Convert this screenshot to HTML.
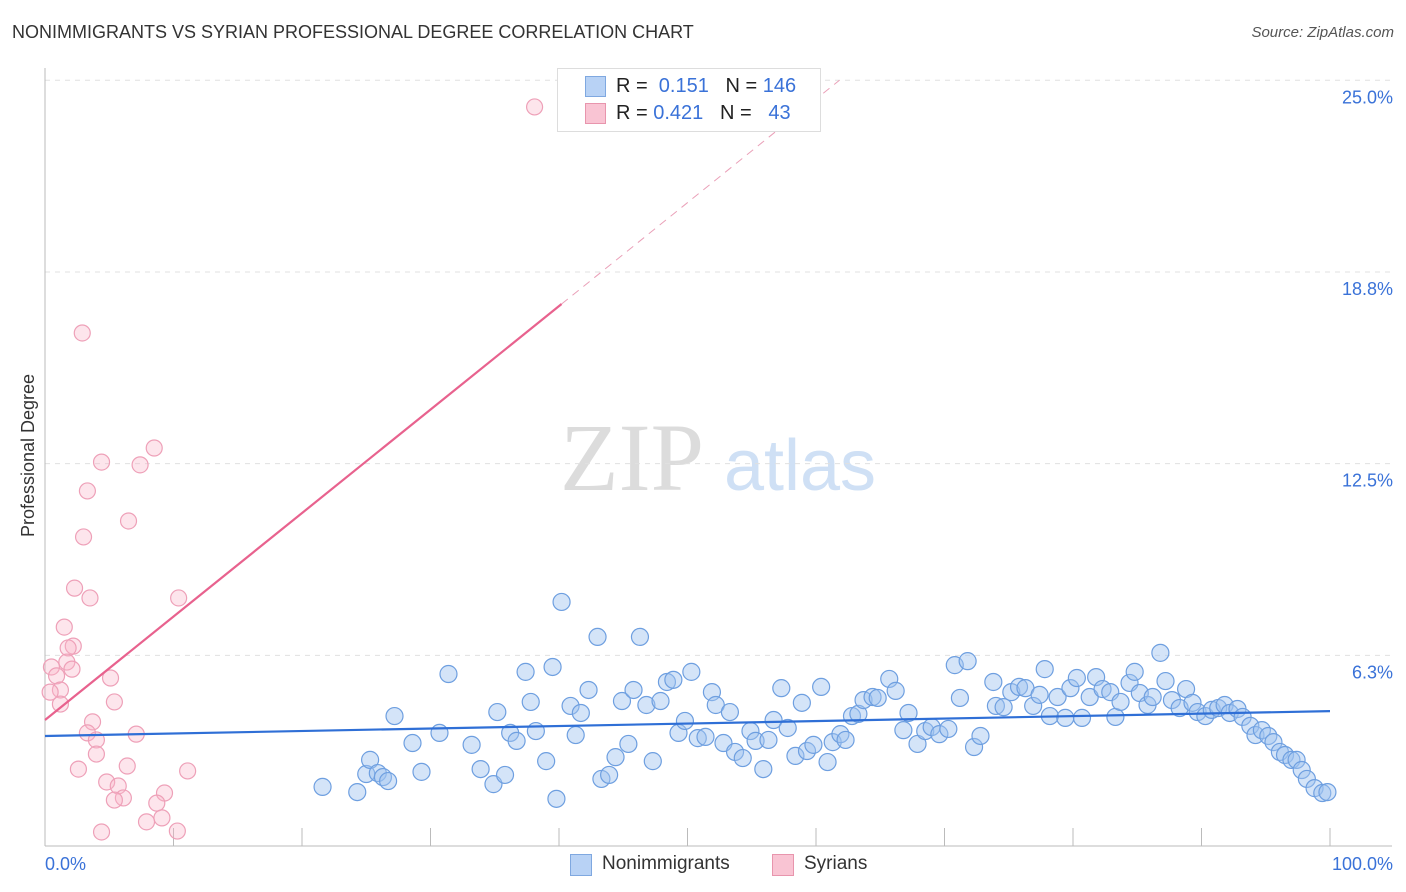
<!DOCTYPE html>
<html><head><meta charset="utf-8"><style>
body{margin:0;background:#fff;font-family:"Liberation Sans",sans-serif;}
#wrap{position:relative;width:1406px;height:892px;overflow:hidden;}
.t{position:absolute;white-space:nowrap;}
</style></head><body>
<div id="wrap">
<div class="t" style="left:12px;top:22px;font-size:18px;color:#333;">NONIMMIGRANTS VS SYRIAN PROFESSIONAL DEGREE CORRELATION CHART</div>
<div class="t" style="right:12px;top:24px;font-size:15px;color:#555;font-style:italic;">Source: ZipAtlas.com</div>
<div class="t" style="left:-53px;top:445px;font-size:18px;color:#333;transform:rotate(-90deg);">Professional Degree</div>
<svg id="svg" width="1406" height="892" style="position:absolute;left:0;top:0"></svg>
<div style="position:absolute;left:557px;top:68px;width:262px;height:62px;border:1px solid #ddd;background:#fff;font-size:20px;color:#222;">
 <div style="position:absolute;left:27px;top:7px;width:19px;height:19px;background:#b8d2f5;border:1px solid #7fa8e0;"></div>
 <div class="t" style="left:58px;top:6px;">R = &nbsp;<span style="color:#3a72d8">0.151</span> &nbsp;&nbsp;N = <span style="color:#3a72d8">146</span></div>
 <div style="position:absolute;left:27px;top:34px;width:19px;height:19px;background:#f9c4d3;border:1px solid #e895ad;"></div>
 <div class="t" style="left:58px;top:33px;">R = <span style="color:#3a72d8">0.421</span> &nbsp;&nbsp;N = &nbsp;&nbsp;<span style="color:#3a72d8">43</span></div>
</div>
<div style="position:absolute;left:570px;top:853px;font-size:19px;color:#333;">
 <div style="position:absolute;left:0;top:1px;width:20px;height:20px;background:#b8d2f5;border:1px solid #7fa8e0;"></div>
 <div class="t" style="left:32px;top:0;">Nonimmigrants</div>
 <div style="position:absolute;left:202px;top:1px;width:20px;height:20px;background:#f9c4d3;border:1px solid #e895ad;"></div>
 <div class="t" style="left:234px;top:0;">Syrians</div>
</div>
</div>
<script>
const yTicks=[25.0,18.8,12.5,6.3];
const yTickVals=[25,18.75,12.5,6.25];
const blueX=[21.6,24.3,25.0,25.3,25.9,26.3,26.7,27.2,28.6,29.3,30.7,31.4,33.2,33.9,34.9,35.2,35.8,36.2,36.7,37.4,37.8,38.2,39.0,39.5,39.8,40.2,40.9,41.3,41.7,42.3,43.0,43.3,43.9,44.4,44.9,45.4,45.8,46.3,46.8,47.3,47.9,48.4,48.9,49.3,49.8,50.3,50.8,51.4,51.9,52.2,52.8,53.3,53.7,54.3,54.9,55.3,55.9,56.3,56.7,57.3,57.8,58.4,58.9,59.3,59.8,60.4,60.9,61.3,61.9,62.3,62.8,63.3,63.7,64.4,64.8,65.7,66.2,66.8,67.2,67.9,68.5,69.0,69.6,70.3,70.8,71.2,71.8,72.3,72.8,73.8,74.0,74.6,75.2,75.8,76.3,76.9,77.4,77.8,78.2,78.8,79.4,79.8,80.3,80.7,81.3,81.8,82.3,82.9,83.3,83.7,84.4,84.8,85.2,85.8,86.2,86.8,87.2,87.7,88.3,88.8,89.3,89.7,90.3,90.8,91.3,91.8,92.2,92.8,93.2,93.8,94.2,94.7,95.2,95.6,96.1,96.5,97.0,97.4,97.8,98.2,98.8,99.4,99.8];
const blueY=[1.96,1.79,2.38,2.84,2.41,2.28,2.15,4.27,3.39,2.45,3.72,5.64,3.33,2.54,2.05,4.40,2.35,3.72,3.46,5.71,4.73,3.78,2.80,5.87,1.57,7.99,4.60,3.65,4.37,5.12,6.85,2.22,2.35,2.93,4.76,3.36,5.12,6.85,4.63,2.80,4.76,5.38,5.45,3.72,4.11,5.71,3.55,3.59,5.05,4.63,3.39,4.40,3.10,2.90,3.78,3.46,2.54,3.49,4.14,5.18,3.88,2.97,4.70,3.13,3.33,5.22,2.77,3.42,3.68,3.49,4.27,4.34,4.79,4.89,4.86,5.48,5.09,3.81,4.37,3.36,3.78,3.91,3.68,3.85,5.93,4.86,6.06,3.26,3.62,5.38,4.60,4.56,5.05,5.22,5.18,4.60,4.96,5.80,4.27,4.89,4.21,5.18,5.51,4.21,4.89,5.54,5.15,5.05,4.24,4.73,5.35,5.71,5.02,4.63,4.89,6.33,5.41,4.79,4.53,5.15,4.70,4.40,4.27,4.47,4.53,4.63,4.37,4.50,4.24,3.95,3.65,3.81,3.62,3.42,3.10,3.00,2.84,2.84,2.51,2.22,1.92,1.76,1.79];
const pinkX=[38.1,2.9,8.5,4.4,7.4,3.3,6.5,3.0,2.3,3.5,10.4,1.5,2.2,1.8,0.5,1.7,2.1,0.9,5.1,1.2,0.4,1.2,5.4,3.7,7.1,3.3,4.0,4.0,2.6,6.4,11.1,4.8,5.7,9.3,6.1,5.4,8.7,9.1,7.9,4.4,10.3];
const pinkY=[24.13,16.76,13.01,12.55,12.46,11.61,10.63,10.11,8.44,8.12,8.12,7.17,6.55,6.49,5.87,6.03,5.80,5.58,5.51,5.12,5.05,4.66,4.73,4.08,3.68,3.72,3.49,3.03,2.54,2.64,2.48,2.12,1.99,1.76,1.60,1.53,1.43,0.95,0.82,0.49,0.52];
const blueLine=[3.62,4.43];
const pinkLine=[4.14,0.3374];
const NS="http://www.w3.org/2000/svg";
const svg=document.getElementById('svg');
const X=v=>45+v*12.85, Y=v=>847-v*30.67;
function mk(t,a){const e=document.createElementNS(NS,t);for(const k in a)e.setAttribute(k,a[k]);svg.appendChild(e);return e;}
function tx(s,x,y,a,c){const e=mk('text',{x:x,y:y,'text-anchor':a,fill:c,'font-size':18,'font-family':'Liberation Sans, sans-serif'});e.textContent=s;return e;}
let w=tx('ZIP',632,490,'middle','#dcdcdc');w.setAttribute('font-size',96);w.setAttribute('font-family','Liberation Serif, serif');


w=tx('atlas',800,490,'middle','#cfe0f5');w.setAttribute('font-size',72);


yTickVals.forEach((v,i)=>{
 const g=mk('line',{x1:45,x2:1392,y1:Y(v),y2:Y(v),stroke:'#e0e0e0','stroke-dasharray':'5,5'});
 
 
 const t=tx(yTicks[i].toFixed(1)+'%',1393,Y(v)+23,'end','#3a72d8');
 
 
});
let ax=mk('line',{x1:45,x2:45,y1:68,y2:846,stroke:'#bbb'});


ax=mk('line',{x1:45,x2:1392,y1:846,y2:846,stroke:'#bbb'});


for(let i=0;i<=10;i++){const t=mk('line',{x1:X(i*10),x2:X(i*10),y1:828,y2:846,stroke:'#bbb'});
 
 }
let xl=tx('0.0%',45,870,'start','#3a72d8');


xl=tx('100.0%',1393,870,'end','#3a72d8');


pinkX.forEach((v,i)=>{const c=mk('circle',{cx:X(v),cy:Y(pinkY[i]),r:8,fill:'rgba(248,180,200,0.35)',stroke:'#eea0b8','stroke-width':1.2});
 
 });
blueX.forEach((v,i)=>{const c=mk('circle',{cx:X(v),cy:Y(blueY[i]),r:8.5,fill:'rgba(160,196,240,0.45)',stroke:'#6e9fe0','stroke-width':1.2});
 
 });
let l=mk('line',{x1:X(0),y1:Y(blueLine[0]),x2:X(100),y2:Y(blueLine[1]),stroke:'#2f6fd6','stroke-width':2.2});


const px=40.2, pe=(25-pinkLine[0])/pinkLine[1];
l=mk('line',{x1:X(0),y1:Y(pinkLine[0]),x2:X(px),y2:Y(pinkLine[0]+pinkLine[1]*px),stroke:'#e8628e','stroke-width':2.2});


l=mk('line',{x1:X(px),y1:Y(pinkLine[0]+pinkLine[1]*px),x2:X(pe),y2:Y(25),stroke:'#eaa0b8','stroke-width':1,'stroke-dasharray':'8,6'});


</script>
</body></html>
